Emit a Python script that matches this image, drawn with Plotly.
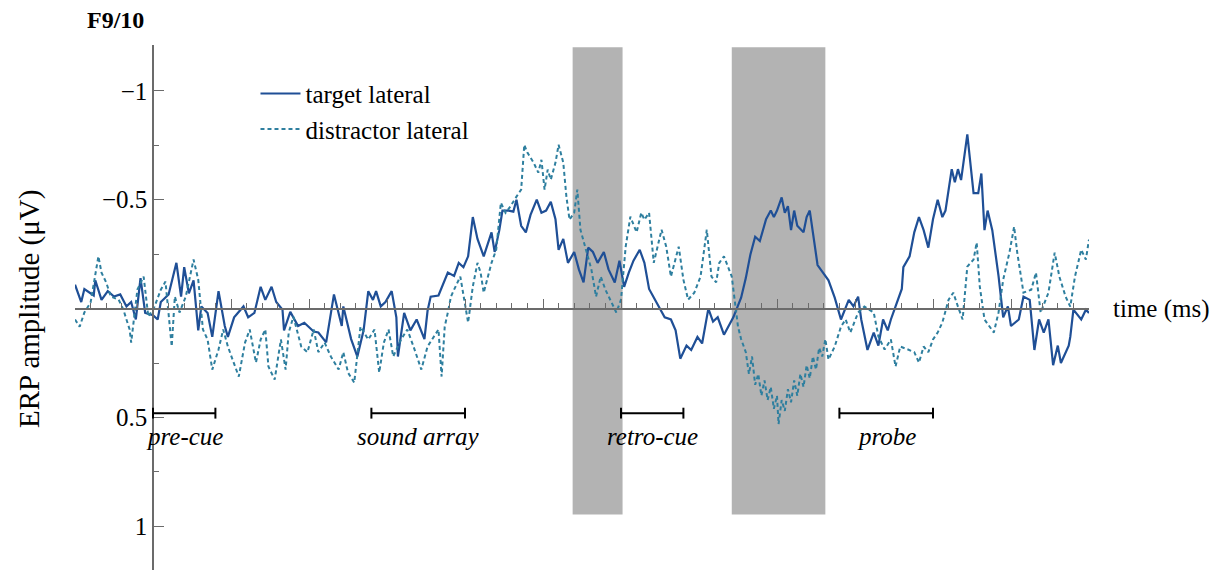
import plotly.graph_objects as go

# ---------------- data ----------------
time_target = [-500, -460, -440, -380, -370, -330, -290, -250, -210, -170,
               -140, -110, -80, -50, 0, 30, 50, 100, 150, 180,
               200, 230, 260, 290, 310, 350, 380, 420, 460, 480,
               520, 580, 610, 650, 690, 720, 760, 790, 830, 840,
               880, 930, 970, 1030, 1060, 1110, 1160, 1210, 1220, 1270,
               1310, 1350, 1380, 1410, 1430, 1460, 1490, 1530, 1560, 1570,
               1610, 1650, 1690, 1740, 1760, 1780, 1830, 1870, 1890, 1930,
               1960, 1990, 2020, 2050, 2080, 2120, 2170, 2190, 2220, 2240,
               2280, 2310, 2330, 2360, 2390, 2420, 2460, 2490, 2520, 2550,
               2580, 2600, 2630, 2660, 2700, 2730, 2760, 2790, 2820, 2850,
               2890, 2920, 2960, 2990, 3020, 3050, 3080, 3120, 3150, 3180,
               3240, 3280, 3320, 3350, 3380, 3420, 3450, 3490, 3520, 3560,
               3590, 3620, 3660, 3690, 3720, 3770, 3800, 3830, 3860, 3890,
               3930, 3960, 3980, 4000, 4030, 4050, 4070, 4090, 4110, 4130,
               4170, 4190, 4210, 4230, 4260, 4290, 4330, 4370,
               4410, 4460, 4490, 4520, 4540, 4580, 4620, 4650, 4680, 4710,
               4730, 4760, 4800, 4810, 4850, 4880, 4910, 4940, 4970, 5000,
               5030, 5060, 5080, 5120, 5140, 5160, 5180, 5220, 5260, 5290,
               5310, 5330, 5350, 5380, 5420, 5450, 5480, 5500, 5550, 5580,
               5620, 5650, 5680, 5710, 5740, 5770, 5800, 5820, 5870, 5880,
               5900, 5950, 5980, 6000]
amp_target = [-0.11, -0.03, -0.09, -0.06, -0.13, -0.04, -0.08, -0.055, -0.065, -0.01,
              -0.03, 0.05, -0.14, 0.02, 0.03, 0.05, -0.03, -0.065, -0.21, -0.055,
              -0.19, -0.07, -0.13, 0.10, -0.01, 0.02, 0.13, -0.08, 0.08, 0.13,
              0.04, -0.01, 0.04, 0.02, -0.10, -0.04, -0.10, -0.03, 0.005, 0.10,
              0.015, 0.08, 0.065, 0.105, 0.11, 0.155, -0.065, 0.08, -0.01, 0.14,
              0.22, 0.10, -0.08, -0.04, -0.08, -0.01, -0.03, -0.08, 0.04, 0.22,
              0.02, 0.10, 0.05, 0.14, 0.01, -0.055, -0.06, -0.13, -0.165, -0.15,
              -0.21, -0.19, -0.24, -0.42, -0.32, -0.24, -0.35, -0.26, -0.36, -0.45,
              -0.45, -0.445, -0.50, -0.38, -0.35, -0.43, -0.50, -0.44, -0.45, -0.49,
              -0.41, -0.27, -0.32, -0.21, -0.26, -0.18, -0.12, -0.28, -0.26, -0.21,
              -0.26, -0.18, -0.12, -0.22, -0.10, -0.165, -0.22, -0.27, -0.21, -0.09,
              -0.01, 0.04, 0.05, 0.10, 0.23, 0.17, 0.19, 0.13, 0.16, 0.00,
              0.06, 0.04, 0.12, 0.08, 0.04, -0.05, -0.14, -0.25, -0.33, -0.31,
              -0.41, -0.45, -0.42, -0.45, -0.51, -0.44, -0.47, -0.36, -0.45, -0.38,
              -0.35, -0.42, -0.45, -0.35, -0.20, -0.17, -0.13, -0.05,
              0.05, -0.04, -0.01, -0.055, 0.05, 0.19, 0.11, 0.17, 0.05, 0.10,
              0.05, -0.01, -0.09, -0.19, -0.24, -0.35, -0.42, -0.36, -0.28, -0.41,
              -0.50, -0.42, -0.45, -0.64, -0.58, -0.64, -0.59, -0.80, -0.53, -0.53,
              -0.62, -0.36, -0.45, -0.36, -0.15, 0.04, -0.01, 0.08, 0.05, -0.055,
              -0.04, 0.19, 0.05, 0.11, 0.05, 0.26, 0.17, 0.25, 0.17, 0.13,
              0.005, 0.05, 0.005, 0.02]

time_distractor = [-500, -470, -440, -400, -350, -330, -300, -270, -220, -190,
                   -150, -140, -100, -60, -30, 10, 50, 80, 120, 140,
                   170, 210, 260, 290, 320, 350, 380, 420, 450, 480,
                   510, 550, 590, 620, 660, 690, 720, 740, 780, 820,
                   850, 870, 900, 950, 990, 1030, 1060, 1100, 1140, 1190,
                   1220, 1250, 1290, 1330, 1380, 1420, 1450, 1480, 1510, 1540,
                   1590, 1630, 1670, 1720, 1760, 1830, 1850, 1870, 1890, 1910,
                   1930, 1970, 2020, 2050, 2080, 2100, 2120, 2170, 2200, 2230,
                   2260, 2290, 2330, 2360, 2380, 2400, 2440, 2470, 2490, 2510,
                   2530, 2550, 2580, 2600, 2630, 2650, 2670, 2700, 2720, 2740,
                   2770, 2810, 2840, 2870, 2900, 2940, 2970, 3000, 3030, 3060,
                   3100, 3130, 3150, 3180, 3210, 3260, 3290, 3320, 3370, 3400,
                   3430, 3470, 3510, 3550, 3580, 3610, 3630, 3660, 3710, 3750,
                   3770, 3800, 3820, 3840, 3860, 3880, 3900, 3920, 3940, 3960,
                   3980, 4000, 4010, 4030, 4050, 4070, 4090, 4110, 4130, 4150,
                   4170, 4190, 4210, 4230, 4250, 4270, 4290, 4310,
                   4330, 4370, 4410, 4440, 4470, 4520, 4560,
                   4620, 4650, 4690, 4730, 4760, 4790, 4840, 4880, 4910, 4940,
                   4970, 5000, 5030, 5060, 5100, 5130, 5160, 5190, 5220, 5260,
                   5280, 5300, 5330, 5360, 5390, 5420, 5450, 5490, 5520, 5540,
                   5580, 5630, 5660, 5690, 5740, 5780, 5810, 5850, 5880, 5910,
                   5950, 5980, 6000]
amp_distractor = [0.05, 0.083, 0.018, -0.028, -0.24, -0.165, -0.12, -0.055, -0.041, 0.005,
                  0.096, 0.156, -0.087, -0.147, 0.037, -0.009, -0.087, -0.124, 0.174, -0.055,
                  0.018, -0.055, -0.225, -0.133, 0.096, 0.142, 0.28, 0.188, 0.096, 0.174,
                  0.234, 0.312, 0.156, 0.096, 0.248, 0.142, 0.096, 0.266, 0.326, 0.142,
                  0.28, 0.11, 0.037, 0.174, 0.20, 0.096, 0.20, 0.156, 0.22, 0.28,
                  0.20, 0.294, 0.34, 0.083, 0.142, 0.096, 0.294, 0.156, 0.096, 0.22,
                  0.142, 0.096, 0.174, 0.28, 0.174, 0.096, 0.312, 0.083, 0.018, -0.055,
                  -0.087, -0.147, 0.064, -0.101, -0.21, -0.165, -0.073, -0.21, -0.27, -0.486,
                  -0.44, -0.468, -0.514, -0.546, -0.752, -0.716, -0.67, -0.624, -0.683, -0.546,
                  -0.638, -0.592, -0.67, -0.752, -0.67, -0.514, -0.408, -0.44, -0.546, -0.362,
                  -0.284, -0.18, -0.055, -0.147, -0.087, -0.028, 0.018, -0.041, -0.284, -0.422,
                  -0.35, -0.44, -0.408, -0.44, -0.21, -0.362, -0.284, -0.147, -0.284, -0.133,
                  -0.041, -0.073, -0.147, -0.362, -0.147, -0.12, -0.21, -0.24, -0.147, 0.083,
                  0.14, 0.20, 0.30, 0.22, 0.35, 0.30, 0.40, 0.33, 0.42, 0.36,
                  0.46, 0.40, 0.53, 0.42, 0.47, 0.37, 0.43, 0.33, 0.40, 0.30,
                  0.36, 0.26, 0.32, 0.22, 0.28, 0.18, 0.22, 0.14,
                  0.234, 0.174, 0.083, 0.05, 0.11, 0.018, -0.009,
                  0.018, 0.128, 0.188, 0.142, 0.266, 0.174, 0.188, 0.20, 0.248, 0.174,
                  0.20, 0.142, 0.11, 0.064, -0.041, -0.073, -0.009, 0.05, -0.193, -0.225,
                  -0.303, -0.101, 0.05, 0.083, 0.11, 0.018, -0.133, -0.257, -0.376, -0.257,
                  -0.073, -0.087, -0.165, 0.018, -0.073, -0.257, -0.147, -0.055, -0.009, -0.147,
                  -0.27, -0.225, -0.317]

event_names = ["pre-cue", "sound array", "retro-cue", "probe"]
event_start = [0, 1400, 3000, 4400]
event_end = [400, 2000, 3400, 5000]

window_start = [2690, 3710]
window_end = [3010, 4310]

ytick_values = [-1, -0.5, 0.5, 1]
ytick_labels = ["\u22121", "\u22120.5", "0.5", "1"]
yminor_values = [-0.75, -0.25, 0.25, 0.75]

# ---------------- layout constants ----------------
X_RANGE = [-500, 6000]
Y_RANGE = [1.2, -1.21]  # reversed: negative up
SERIF = "Liberation Serif, Times New Roman, serif"
AXIS_COLOR = "#6b6b6b"
TARGET_COLOR = "#1f4f96"
DISTRACTOR_COLOR = "#2e7f9f"
FS = 25

fig = go.Figure()

fig.add_trace(go.Scatter(
    x=time_target, y=amp_target, mode="lines", name="target lateral",
    line=dict(color=TARGET_COLOR, width=2.2)))
fig.add_trace(go.Scatter(
    x=time_distractor, y=amp_distractor, mode="lines", name="distractor lateral",
    line=dict(color=DISTRACTOR_COLOR, width=2, dash="4px,3px")))

# shaded analysis windows
for s, e in zip(window_start, window_end):
    fig.add_shape(type="rect", xref="x", yref="y", x0=s, x1=e, y0=-1.2, y1=0.945,
                  fillcolor="#b3b3b3", line=dict(width=0), layer="below")

# event brackets
BRACKET_Y = 0.48
CAP = 0.025
for name, s, e in zip(event_names, event_start, event_end):
    fig.add_shape(type="line", xref="x", yref="y", x0=s, x1=e, y0=BRACKET_Y, y1=BRACKET_Y,
                  line=dict(color="black", width=2))
    for xx in (s, e):
        fig.add_shape(type="line", xref="x", yref="y", x0=xx, x1=xx,
                      y0=BRACKET_Y - CAP, y1=BRACKET_Y + CAP,
                      line=dict(color="black", width=2))
    fig.add_annotation(x=(s + e) / 2, y=0.585, xref="x", yref="y",
                       text="<i>%s</i>" % name, showarrow=False,
                       font=dict(family=SERIF, size=FS, color="black"))

fig.add_annotation(x=1.022, y=0, xref="paper", yref="y", xanchor="left", yanchor="middle",
                   text="time (ms)", showarrow=False,
                   font=dict(family=SERIF, size=FS, color="black"))
fig.add_annotation(x=0.01, y=1.048, xref="paper", yref="paper", xanchor="left", yanchor="middle",
                   text="<b>F9/10</b>", showarrow=False,
                   font=dict(family=SERIF, size=24, color="black"))
fig.add_annotation(x=-0.045, y=Y_RANGE[0] / (Y_RANGE[0] - Y_RANGE[1]), xref="paper", yref="paper",
                   text="ERP amplitude (\u03bcV)", textangle=-90, showarrow=False,
                   xanchor="center", yanchor="middle",
                   font=dict(family=SERIF, size=29, color="black"))

y0_frac = Y_RANGE[0] / (Y_RANGE[0] - Y_RANGE[1])
x0_frac = (0 - X_RANGE[0]) / (X_RANGE[1] - X_RANGE[0])

fig.update_layout(
    width=1220, height=572,
    margin=dict(l=75, r=131, t=45, b=2),
    plot_bgcolor="white", paper_bgcolor="white",
    font=dict(family=SERIF, size=FS, color="black"),
    showlegend=True,
    legend=dict(x=0.178, y=0.951, xanchor="left", yanchor="top",
                bgcolor="rgba(0,0,0,0)", font=dict(family=SERIF, size=FS),
                itemwidth=40, tracegroupgap=0),
    xaxis=dict(range=X_RANGE, anchor="free", position=y0_frac,
               showline=True, linecolor=AXIS_COLOR, linewidth=2,
               showgrid=False, zeroline=False, showticklabels=False,
               ticks="inside", tickmode="linear", tick0=0, dtick=500,
               ticklen=9, tickwidth=1.2, tickcolor=AXIS_COLOR,
               minor=dict(ticks="inside", tickmode="linear", tick0=0, dtick=100,
                          ticklen=5, tickwidth=1, tickcolor=AXIS_COLOR, showgrid=False)),
    yaxis=dict(range=Y_RANGE, anchor="free", position=x0_frac,
               showline=True, linecolor=AXIS_COLOR, linewidth=1.5,
               showgrid=False, zeroline=False,
               ticks="inside", tickmode="array", tickvals=ytick_values, ticktext=ytick_labels,
               ticklen=10, tickwidth=1.2, tickcolor=AXIS_COLOR,
               tickfont=dict(family=SERIF, size=FS, color="black"),
               minor=dict(ticks="inside", tickmode="array", tickvals=yminor_values,
                          ticklen=5, tickwidth=1, tickcolor=AXIS_COLOR, showgrid=False)),
)

fig.write_html("out.html", config={"displayModeBar": False},
               post_script="document.body.style.margin='0';")
